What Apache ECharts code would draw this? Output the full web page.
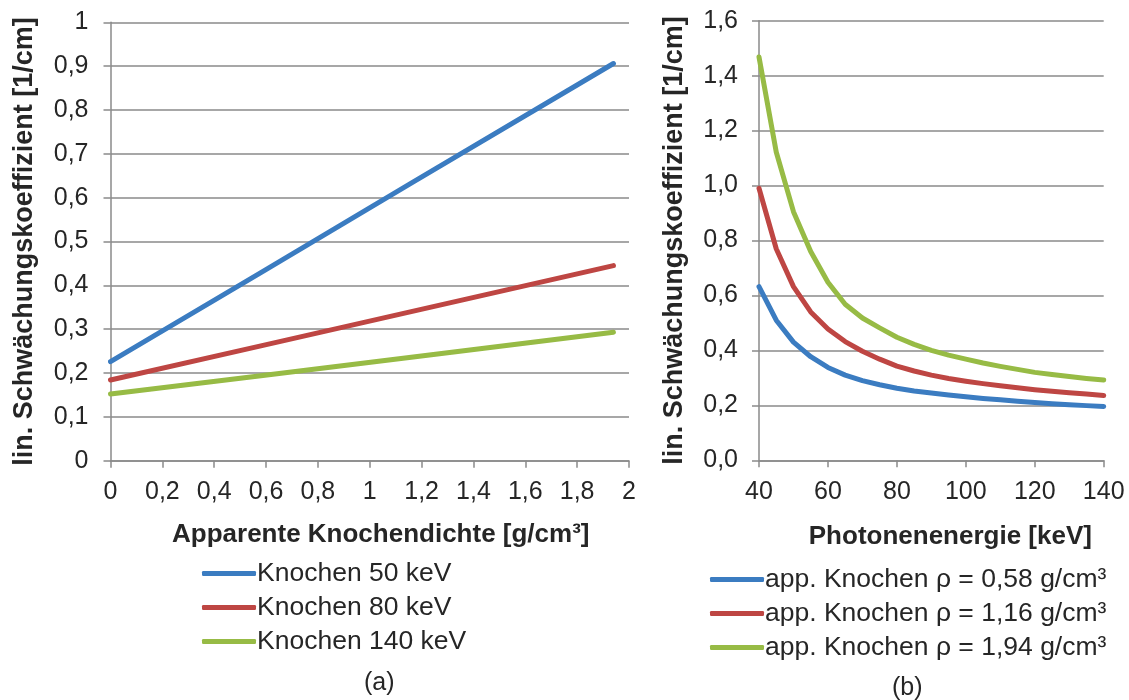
<!DOCTYPE html>
<html>
<head>
<meta charset="utf-8">
<script src="https://cdn.jsdelivr.net/npm/echarts@6/dist/echarts.min.js"></script>
<style>
  html, body { margin: 0; padding: 0; background: #ffffff; }
  #chart { width: 1129px; height: 700px; }
</style>
</head>
<body>
<div id="chart"></div>
<script>
// (a) attenuation vs. apparent bone density
const density = [0, 0.58, 1.16, 1.94];
const mu50keV = [0.226, 0.429, 0.633, 0.906];
const mu80keV = [0.184, 0.262, 0.340, 0.445];
const mu140keV = [0.152, 0.194, 0.236, 0.293];
const namesA = ['Knochen 50 keV', 'Knochen 80 keV', 'Knochen 140 keV'];

// (b) attenuation vs. photon energy
const energy = [40, 45, 50, 55, 60, 65, 70, 75, 80, 85, 90, 95, 100, 105, 110, 115, 120, 125, 130, 135, 140];
const muRho058 = [0.632, 0.510, 0.430, 0.377, 0.338, 0.310, 0.290, 0.275, 0.262, 0.252, 0.245, 0.238, 0.231, 0.225, 0.220, 0.215, 0.210, 0.206, 0.202, 0.199, 0.196];
const muRho116 = [0.990, 0.770, 0.632, 0.540, 0.478, 0.432, 0.397, 0.368, 0.343, 0.325, 0.310, 0.298, 0.288, 0.279, 0.271, 0.264, 0.257, 0.251, 0.246, 0.241, 0.236];
const muRho194 = [1.468, 1.122, 0.905, 0.760, 0.648, 0.568, 0.518, 0.482, 0.448, 0.422, 0.400, 0.383, 0.368, 0.354, 0.342, 0.331, 0.320, 0.312, 0.305, 0.298, 0.292];
const namesB = ['app. Knochen ρ = 0,58 g/cm³', 'app. Knochen ρ = 1,16 g/cm³', 'app. Knochen ρ = 1,94 g/cm³'];

const colors = ['#3b7cc1', '#be4643', '#97bb45'];
const font = 'Liberation Sans, Arial, sans-serif';
const textColor = '#262626';
const gridColor = '#8a8a8a';

// decimal comma labels; digits = 0 keeps the shortest form (0, 0,1 … 1)
function commaLabel(digits) {
  return function (v) {
    const r = Math.round(v * 1000) / 1000;
    const s = digits === 0 ? String(r) : r.toFixed(digits);
    return s.replace('.', ',');
  };
}

function pairs(xs, ys) { return xs.map((x, i) => [x, ys[i]]); }

const axisCommon = {
  axisLine: { show: true, lineStyle: { color: gridColor, width: 1.5 } },
  axisTick: { show: true, length: 7, lineStyle: { color: gridColor, width: 1.5 } },
  axisLabel: { color: textColor, fontFamily: font, fontSize: 25 },
  nameTextStyle: { color: textColor, fontFamily: font, fontWeight: 'bold', fontSize: 26 }
};

function lineSeries(name, xAxisIndex, data, color) {
  return {
    name: name,
    type: 'line',
    xAxisIndex: xAxisIndex,
    yAxisIndex: xAxisIndex,
    data: data,
    showSymbol: false,
    symbol: 'none',
    smooth: false,
    color: color,
    lineStyle: { color: color, width: 5, cap: 'round', join: 'round' },
    animation: false
  };
}

const chart = echarts.init(document.getElementById('chart'), null, { renderer: 'canvas' });

chart.setOption({
  backgroundColor: '#ffffff',
  animation: false,
  grid: [
    { left: 110.5, right: 500, top: 22.3, bottom: 239.3, containLabel: false },
    { left: 759, right: 25.3, top: 20.7, bottom: 239.7, containLabel: false }
  ],
  xAxis: [
    Object.assign({}, axisCommon, {
      gridIndex: 0, type: 'value', min: 0, max: 2, interval: 0.2,
      splitLine: { show: false },
      axisLabel: Object.assign({}, axisCommon.axisLabel, { margin: 19, formatter: commaLabel(0) }),
      name: 'Apparente Knochendichte [g/cm³]', nameLocation: 'middle', nameGap: 61,
      nameTextStyle: Object.assign({}, axisCommon.nameTextStyle, { padding: [0, 0, 0, 22] })
    }),
    Object.assign({}, axisCommon, {
      gridIndex: 1, type: 'value', min: 40, max: 140, interval: 20,
      splitLine: { show: false },
      axisLabel: Object.assign({}, axisCommon.axisLabel, { margin: 19 }),
      name: 'Photonenenergie [keV]', nameLocation: 'middle', nameGap: 64,
      nameTextStyle: Object.assign({}, axisCommon.nameTextStyle, { padding: [0, 0, 0, 38] })
    })
  ],
  yAxis: [
    Object.assign({}, axisCommon, {
      gridIndex: 0, type: 'value', min: 0, max: 1, interval: 0.1,
      splitLine: { show: true, lineStyle: { color: gridColor, width: 1.5 } },
      axisLabel: Object.assign({}, axisCommon.axisLabel, { margin: 22, formatter: commaLabel(0) }),
      name: 'lin. Schwächungskoeffizient [1/cm]', nameLocation: 'middle', nameGap: 72,
      nameTextStyle: Object.assign({}, axisCommon.nameTextStyle, { fontSize: 27 })
    }),
    Object.assign({}, axisCommon, {
      gridIndex: 1, type: 'value', min: 0, max: 1.6, interval: 0.2,
      splitLine: { show: true, lineStyle: { color: gridColor, width: 1.5 } },
      axisLabel: Object.assign({}, axisCommon.axisLabel, { margin: 21, formatter: commaLabel(1) }),
      name: 'lin. Schwächungskoeffizient [1/cm]', nameLocation: 'middle', nameGap: 71,
      nameTextStyle: Object.assign({}, axisCommon.nameTextStyle, { fontSize: 27 })
    })
  ],
  legend: [
    {
      data: namesA, orient: 'vertical', left: 197, top: 555,
      icon: 'roundRect', itemWidth: 54, itemHeight: 5, itemGap: 7,
      selectedMode: false,
      textStyle: { color: textColor, fontFamily: font, fontSize: 26.5, padding: [0, 0, 0, -4] }
    },
    {
      data: namesB, orient: 'vertical', left: 705, top: 561,
      icon: 'roundRect', itemWidth: 54, itemHeight: 5, itemGap: 7,
      selectedMode: false,
      textStyle: { color: textColor, fontFamily: font, fontSize: 26.5, padding: [0, 0, 0, -4] }
    }
  ],
  graphic: [
    { type: 'text', left: 364, top: 671, style: { text: '(a)', font: '25px ' + font, fill: textColor } },
    { type: 'text', left: 892, top: 676, style: { text: '(b)', font: '25px ' + font, fill: textColor } }
  ],
  series: [
    lineSeries(namesA[0], 0, pairs(density, mu50keV), colors[0]),
    lineSeries(namesA[1], 0, pairs(density, mu80keV), colors[1]),
    lineSeries(namesA[2], 0, pairs(density, mu140keV), colors[2]),
    lineSeries(namesB[0], 1, pairs(energy, muRho058), colors[0]),
    lineSeries(namesB[1], 1, pairs(energy, muRho116), colors[1]),
    lineSeries(namesB[2], 1, pairs(energy, muRho194), colors[2])
  ]
});
</script>
</body>
</html>
